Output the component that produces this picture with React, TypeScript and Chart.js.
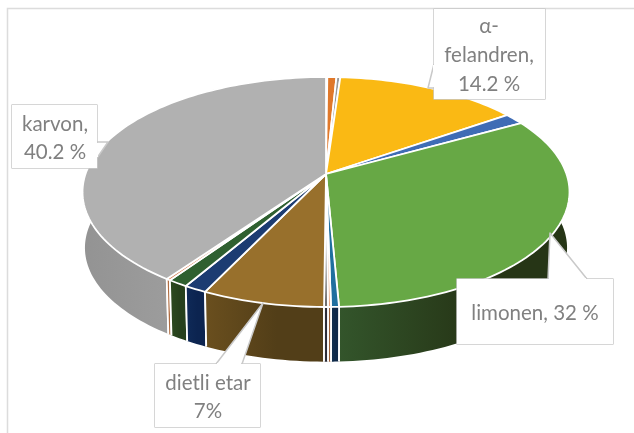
import React, { useEffect, useRef } from "react";
import { Chart, registerables } from "chart.js";

Chart.register(...registerables);

const sliceNames = ["a", "b", "c", "α-felandren", "d", "limonen", "e", "f", "g", "dietli etar", "h", "i", "j", "karvon"];
const sliceValues = [0.1, 0.7, 0.3, 14.2, 1.6, 32.37, 0.45, 0.17, 0.22, 7, 1.3, 1.15, 0.24, 40.2];
const topColors = ["#fbe9c8", "#e0782a", "#9a9a9a", "#fab914", "#3f6cb5", "#67a845", "#1f6f9f", "#e8a27a", "#6f6f6f", "#98702c", "#1c3c72", "#2f6030", "#d9855a", "#b1b1b1"];
const wallLeft = ["#a08a60", "#8a4a18", "#666", "#8a6a10", "#22407a", "#33552b", "#12304f", "#b06c3e", "#3a3a3a", "#6a4f1e", "#0f2a58", "#2c4a20", "#c07a50", "#939393"];
const wallRight = ["#a08a60", "#8a4a18", "#666", "#8a6a10", "#22407a", "#263516", "#0e2848", "#9a5c34", "#2a2a36", "#523e18", "#0c2450", "#26401c", "#b06c40", "#a3a3a3"];

type Callout = { lines: string[]; box: number[]; ptr: number[]; cx: number; base: number[] };
const callouts: Callout[] = [
  { lines: ["α-", "felandren,", "14.2 %"], box: [434, 9, 545, 99], ptr: [434, 64, 428, 88, 434, 88], cx: 489, base: [33, 62, 91] },
  { lines: ["limonen, 32 %"], box: [457, 279, 613, 344], ptr: [548, 279, 550, 233, 587, 279], cx: 535, base: [320] },
  { lines: ["dietli etar", "7%"], box: [155, 364, 260, 427], ptr: [216, 364, 263, 303, 242, 364], cx: 208, base: [390, 418] },
  { lines: ["karvon,", "40.2 %"], box: [12, 105, 97, 168], ptr: [97, 142, 108, 142, 97, 158], cx: 55, base: [131, 159] },
];

const CX = 326, CY = 174, RX = 240.5, RY = 112.2, K = 0.1565, DEPTH = 56, BOTTOM_SCALE = 0.99;

function project(angle: number, scale: number, dy: number): [number, number] {
  // angle in Chart.js convention, -PI/2 is 12 o'clock
  const u = Math.cos(angle);
  const v = -Math.sin(angle);
  const s = 1 / (1 + K * v);
  return [CX + RX * scale * u * s, CY + dy - RY * scale * v * s];
}

const pie3d = {
  id: "pie3d",
  beforeDatasetsDraw(chart: any) {
    const ctx = chart.ctx as CanvasRenderingContext2D;
    const arcs = chart.getDatasetMeta(0).data as any[];
    ctx.save();
    ctx.strokeStyle = "#dcdcdc";
    ctx.lineWidth = 1.5;
    ctx.strokeRect(7.5, 8.5, 800, 600);

    // walls
    const order = arcs.map((_, i) => i).sort((a, b) => {
      const m = (x: any) => Math.sin((x.startAngle + x.endAngle) / 2);
      return m(arcs[a]) - m(arcs[b]);
    });
    for (const i of order) {
      const a = arcs[i];
      const n = Math.max(4, Math.ceil((a.endAngle - a.startAngle) * 40));
      const topPts: [number, number][] = [];
      const botPts: [number, number][] = [];
      for (let k = 0; k <= n; k++) {
        const t = a.startAngle + ((a.endAngle - a.startAngle) * k) / n;
        topPts.push(project(t, 1, 0));
        botPts.push(project(t, BOTTOM_SCALE, DEPTH));
      }
      const xs = topPts.map((p) => p[0]);
      const g = ctx.createLinearGradient(Math.min(...xs), 0, Math.max(...xs), 0);
      g.addColorStop(0, wallLeft[i]);
      g.addColorStop(0.6, wallRight[i]);
      g.addColorStop(1, wallRight[i]);
      ctx.beginPath();
      topPts.forEach((p, k) => (k ? ctx.lineTo(p[0], p[1]) : ctx.moveTo(p[0], p[1])));
      botPts.reverse().forEach((p) => ctx.lineTo(p[0], p[1]));
      ctx.closePath();
      ctx.fillStyle = g;
      ctx.fill();
      ctx.strokeStyle = "#ffffff";
      ctx.lineWidth = 1.8;
      ctx.lineJoin = "round";
      const s0 = project(a.startAngle, 1, 0), s1 = project(a.startAngle, BOTTOM_SCALE, DEPTH);
      const e0 = project(a.endAngle, 1, 0), e1 = project(a.endAngle, BOTTOM_SCALE, DEPTH);
      ctx.beginPath();
      ctx.moveTo(s0[0], s0[1]); ctx.lineTo(s1[0], s1[1]);
      ctx.moveTo(e0[0], e0[1]); ctx.lineTo(e1[0], e1[1]);
      ctx.stroke();
    }

    // top faces
    arcs.forEach((a, i) => {
      const n = Math.max(4, Math.ceil((a.endAngle - a.startAngle) * 40));
      ctx.beginPath();
      ctx.moveTo(CX, CY);
      for (let k = 0; k <= n; k++) {
        const t = a.startAngle + ((a.endAngle - a.startAngle) * k) / n;
        const p = project(t, 1, 0);
        ctx.lineTo(p[0], p[1]);
      }
      ctx.closePath();
      ctx.fillStyle = topColors[i];
      ctx.fill();
      ctx.strokeStyle = "#ffffff";
      ctx.lineWidth = 1.8;
      ctx.stroke();
    });

    // callouts
    ctx.font = "20.5px Lato";
    ctx.textAlign = "center";
    ctx.textBaseline = "alphabetic";
    for (const c of callouts) {
      const [x0, y0, x1, y1] = c.box;
      ctx.fillStyle = "#ffffff";
      ctx.strokeStyle = "#c9c9c9";
      ctx.lineWidth = 1.5;
      ctx.beginPath();
      ctx.moveTo(c.ptr[0], c.ptr[1]);
      ctx.lineTo(c.ptr[2], c.ptr[3]);
      ctx.lineTo(c.ptr[4], c.ptr[5]);
      ctx.fill();
      ctx.stroke();
      ctx.beginPath();
      ctx.rect(x0, y0, x1 - x0, y1 - y0);
      ctx.stroke();
      ctx.fill();
      // the pointer opens into its box
      ctx.strokeStyle = "#ffffff";
      ctx.lineWidth = 2;
      ctx.beginPath();
      if (c.ptr[0] === c.ptr[4]) {
        ctx.moveTo(c.ptr[0], c.ptr[1] + 1);
        ctx.lineTo(c.ptr[4], c.ptr[5] - 1);
      } else {
        ctx.moveTo(c.ptr[0] + 1, c.ptr[1]);
        ctx.lineTo(c.ptr[4] - 1, c.ptr[5]);
      }
      ctx.stroke();
      ctx.fillStyle = "#808080";
      c.lines.forEach((l, i) => ctx.fillText(l, c.cx, c.base[i]));
    }
    ctx.restore();
    return false;
  },
  beforeDatasetDraw() {
    return false;
  },
};

export default function App() {
  const ref = useRef<HTMLCanvasElement>(null);
  useEffect(() => {
    const chart = new Chart(ref.current!, {
      type: "pie",
      data: {
        labels: sliceNames,
        datasets: [{ data: sliceValues, backgroundColor: topColors, borderColor: "#fff" }],
      },
      options: {
        responsive: false,
        animation: false,
        plugins: { legend: { display: false }, tooltip: { enabled: false } },
      },
      plugins: [pie3d],
    } as any);
    return () => chart.destroy();
  }, []);
  return (
    <canvas
      ref={ref}
      width={634}
      height={433}
      style={{ position: "fixed", left: 0, top: 0, display: "block" }}
    />
  );
}
